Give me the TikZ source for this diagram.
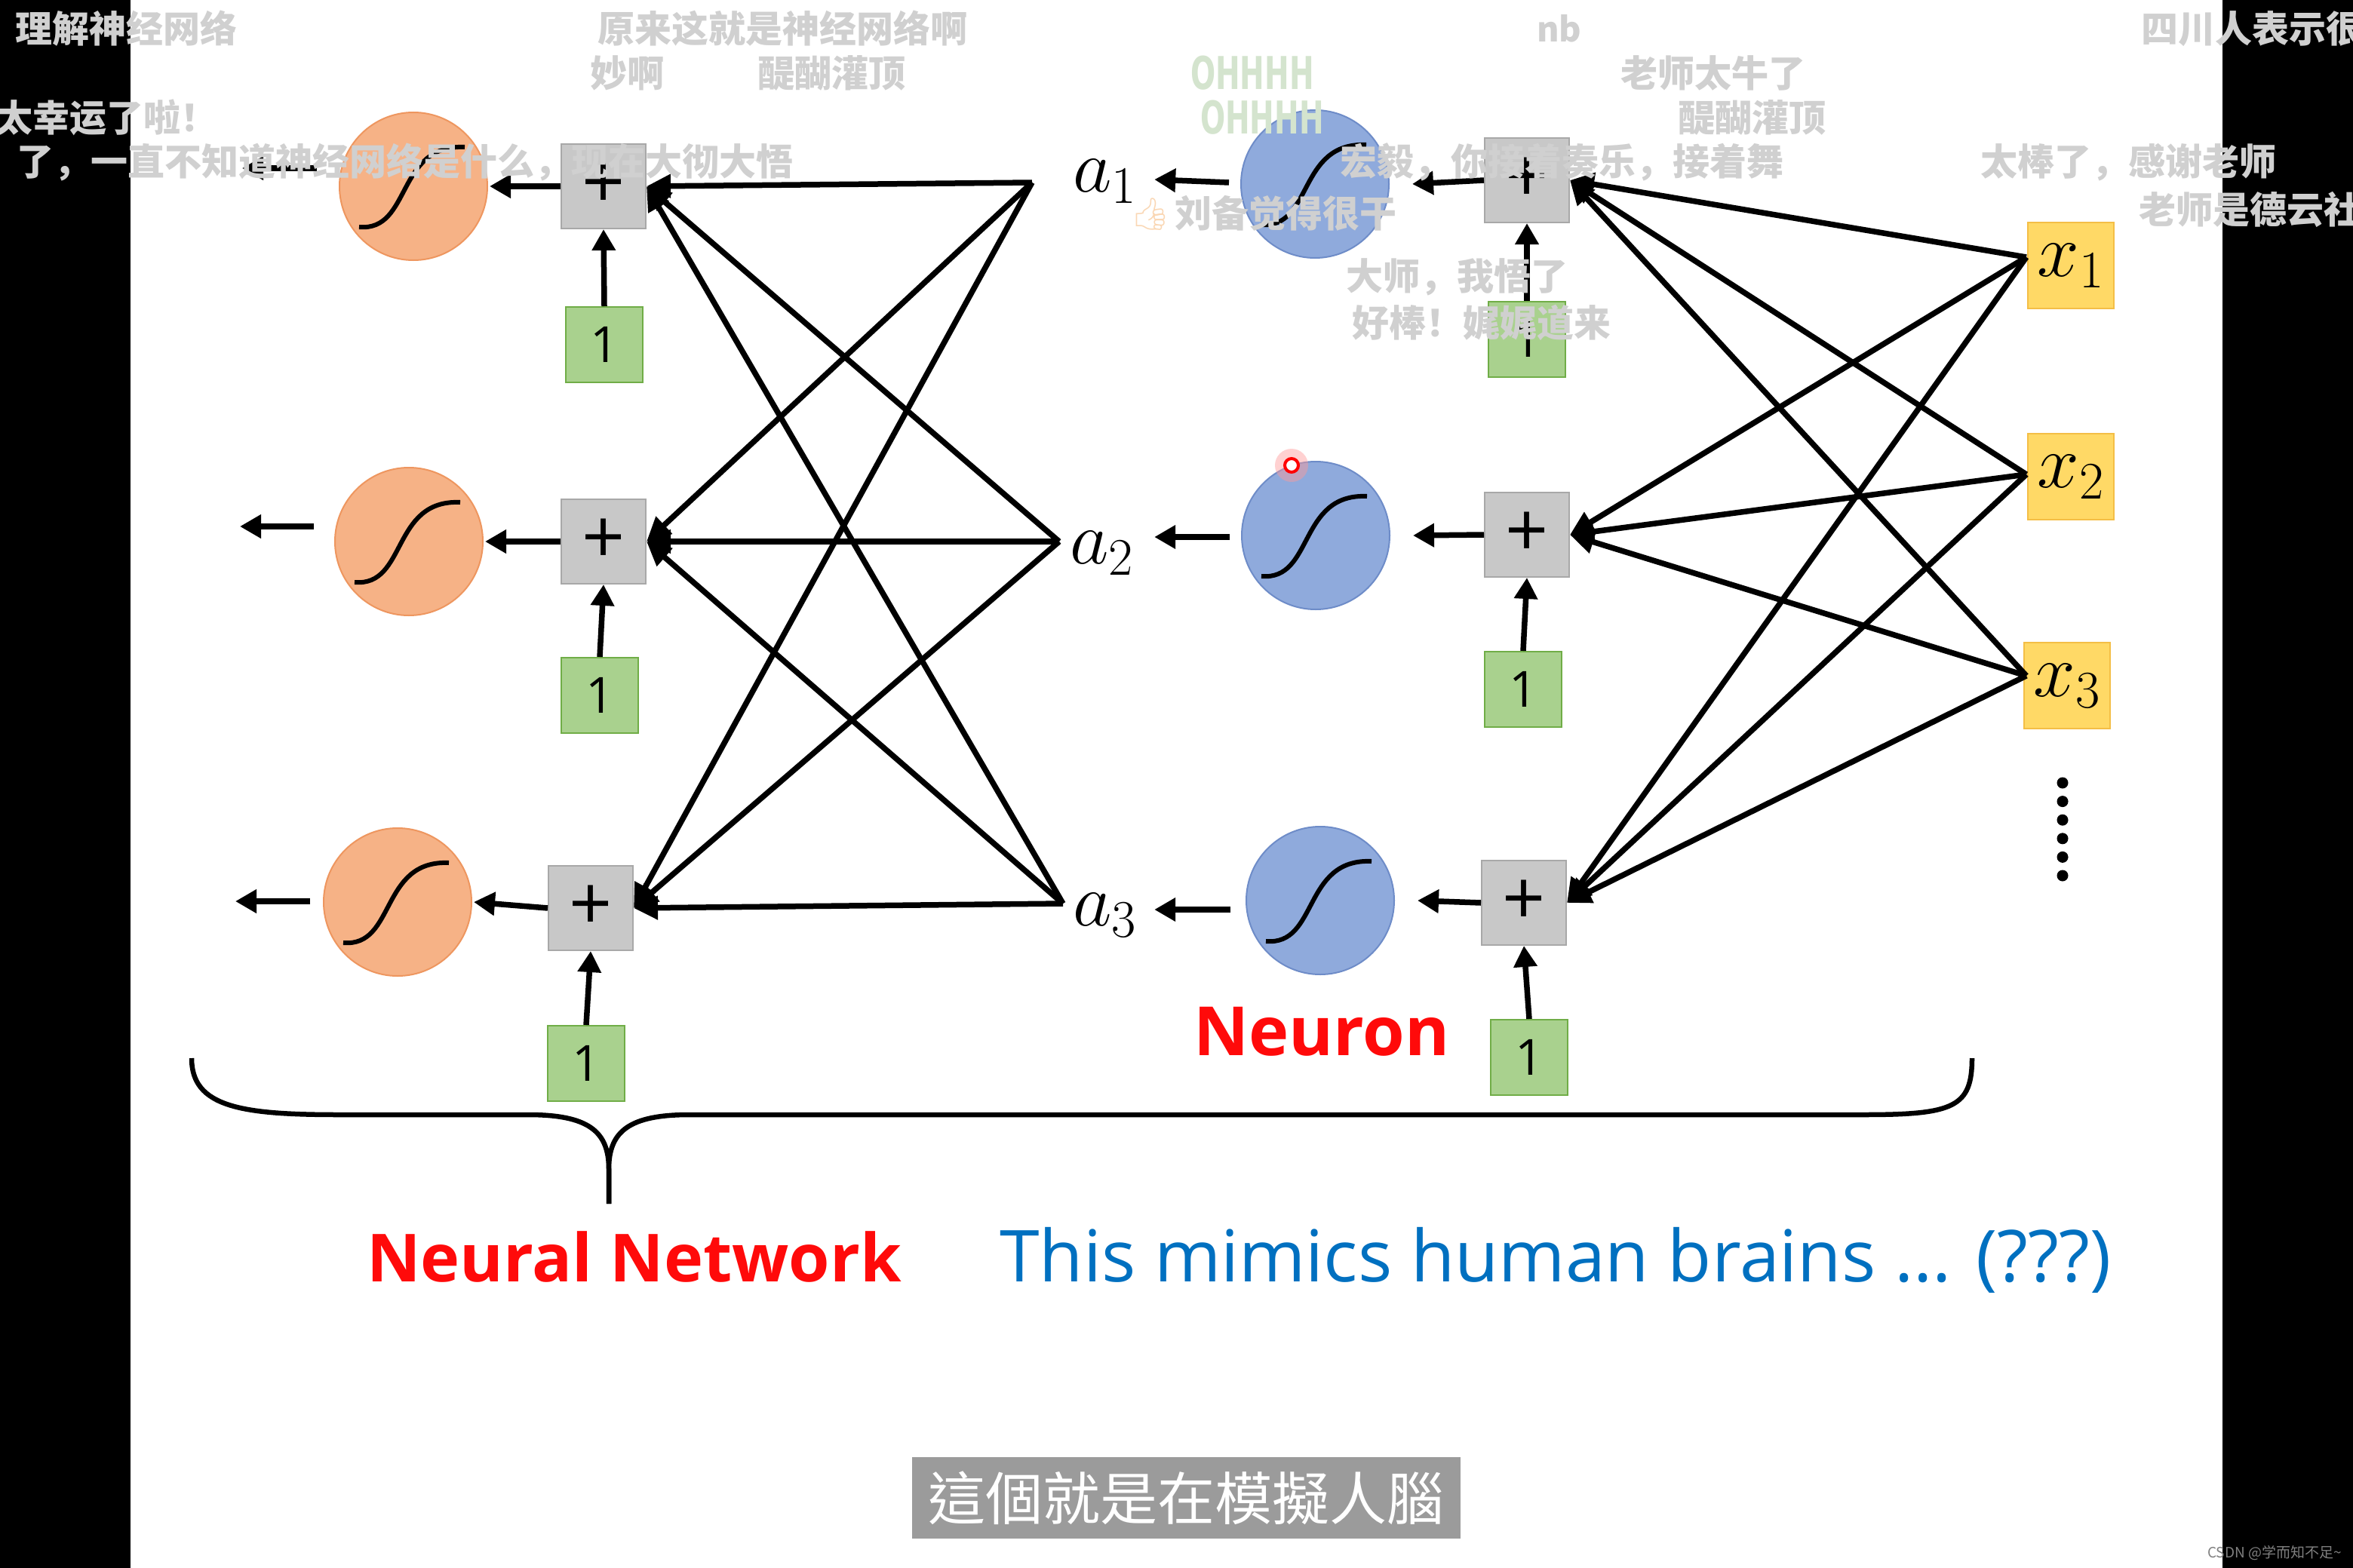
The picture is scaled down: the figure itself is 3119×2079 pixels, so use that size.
\documentclass[tikz,border=0pt]{standalone}
\usepackage{fix-cm}
\usepackage[no-math]{fontspec}
\setmainfont{Open Sans}
\newfontfamily\cjk{Noto Sans CJK SC}
\newfontfamily\cjktc{Noto Sans CJK TC}
\newfontfamily\emo{Noto Emoji}
\newfontfamily\dvs{DejaVu Sans}
\usetikzlibrary{arrows.meta}
\definecolor{orfill}{RGB}{246,178,134}
\definecolor{ordraw}{RGB}{238,150,95}
\definecolor{blfill}{RGB}{143,170,220}
\definecolor{bldraw}{RGB}{110,140,200}
\definecolor{gyfill}{RGB}{200,200,200}
\definecolor{gydraw}{RGB}{168,168,168}
\definecolor{grfill}{RGB}{169,209,142}
\definecolor{grdraw}{RGB}{112,173,71}
\definecolor{yefill}{RGB}{255,217,102}
\definecolor{yedraw}{RGB}{244,190,70}
\definecolor{nnred}{RGB}{255,10,10}
\definecolor{nnblue}{RGB}{0,112,192}
\definecolor{dmgray}{RGB}{208,208,208}
\definecolor{ohcol}{RGB}{212,228,206}
\definecolor{subgray}{RGB}{155,155,155}
\begin{document}
\begin{tikzpicture}[x=1pt,y=-1pt,
  orneuron/.style={circle, minimum size=196pt, inner sep=0pt, fill=orfill, draw=ordraw, line width=2pt},
  blneuron/.style={circle, minimum size=196pt, inner sep=0pt, fill=blfill, draw=bldraw, line width=2pt},
  sumbox/.style={rectangle, fill=gyfill, draw=gydraw, line width=2pt, minimum size=112pt, inner sep=0pt, font=\fontsize{100}{100}\selectfont},
  onebox/.style={rectangle, fill=grfill, draw=grdraw, line width=2pt, minimum width=102pt, minimum height=100pt, inner sep=0pt, font=\fontsize{66}{70}\selectfont},
  inbox/.style={rectangle, fill=yefill, draw=yedraw, line width=2pt, minimum size=114pt, inner sep=0pt, font=\fontsize{100}{100}\selectfont},
  alabel/.style={inner sep=0pt, font=\fontsize{100}{100}\selectfont},
  conn/.style={line width=7.5pt, -{Triangle[length=32pt,width=30pt]}},
  shortarr/.style={line width=7.5pt, -{Triangle[length=28pt,width=30pt]}},
  dmk/.style={anchor=west, inner sep=0pt, text=dmgray, font=\cjk\bfseries\fontsize{49}{55}\selectfont},
  ohtext/.style={inner sep=0pt, text=ohcol, font=\dvs\bfseries\fontsize{60}{60}\selectfont},
  sig/.pic={\draw[line width=6pt] (-72,54) .. controls (-2,60) and (-24,-56) .. (68,-52);}
]
\useasboundingbox (0,0) rectangle (3119,2079);
\clip (0,0) rectangle (3119,2079);
\fill[white] (0,0) rectangle (3119,2079);
\fill[black] (0,0) rectangle (173,2079);
\fill[black] (2946,0) rectangle (3119,2079);

% ---- left layer ----
\node[orneuron] (o1) at (548,247) {};
\node[orneuron] (o2) at (542,718) {};
\node[orneuron] (o3) at (527,1196) {};
\pic at (o1) {sig};
\pic at (o2) {sig};
\pic at (o3) {sig};
\node[sumbox] (p1) at (800,247) {+};
\node[sumbox] (p2) at (800,718) {+};
\node[sumbox] (p3) at (783,1204) {+};
\node[onebox] (g1) at (801,457) {1};
\node[onebox] (g2) at (795,922) {1};
\node[onebox] (g3) at (777,1410) {1};
\coordinate (oe1) at (321,223);
\coordinate (oe2) at (318,698);
\coordinate (oe3) at (312,1195);

% ---- a labels ----
\node[alabel] (a1) at (1464,240) {$a_1$};
\node[alabel] (a2) at (1460,733) {$a_2$};
\node[alabel] (a3) at (1464,1213) {$a_3$};
\coordinate (ca1) at (1368,242);
\coordinate (ca2) at (1404,718);
\coordinate (ca3) at (1409,1198);

% ---- right layer ----
\node[blneuron] (b1) at (1743,244) {};
\node[blneuron] (b2) at (1744,710) {};
\node[blneuron] (b3) at (1750,1194) {};
\pic at (b1) {sig};
\pic at (b2) {sig};
\pic at (b3) {sig};
\node[sumbox] (q1) at (2024,239) {+};
\node[sumbox] (q2) at (2024,709) {+};
\node[sumbox] (q3) at (2020,1197) {+};
\node[onebox] (h1) at (2024,450) {1};
\node[onebox] (h2) at (2019,914) {1};
\node[onebox] (h3) at (2027,1402) {1};

\node[inbox] (x1) at (2745,352) {$x_1$};
\node[inbox] (x2) at (2745,632) {$x_2$};
\node[inbox] (x3) at (2740,909) {$x_3$};
\coordinate (cx1) at (2686,341);
\coordinate (cx2) at (2686,629);
\coordinate (cx3) at (2686,896);

\foreach \k in {0,...,5} \fill (2734,1038+24.6*\k) circle (7.5);

% ---- connectors ----
\foreach \i in {1,2,3} {
  \foreach \j in {1,2,3} {
    \draw[conn] (ca\i) -- (p\j.east);
    \draw[conn] (cx\i) -- (q\j.east);
  }
}
\foreach \j in {1,2,3} {
  \draw[shortarr] (g\j.north) -- (p\j.south);
  \draw[shortarr] (h\j.north) -- (q\j.south);
  \draw[shortarr] (p\j.west) -- ([xshift=2pt]o\j.east);
  \draw[shortarr] (q\j.west) -- ([xshift=30pt]b\j.east);
}
\draw[shortarr] ([xshift=-29pt,yshift=24pt]o1.west) -- (oe1);
\draw[shortarr] ([xshift=-27pt,yshift=20pt]o2.west) -- (oe2);
\draw[shortarr] ([xshift=-17pt,yshift=1pt]o3.west) -- (oe3);
\draw[shortarr] ([xshift=-15pt,yshift=2pt]b1.west) -- ([xshift=24pt,yshift=2pt]a1.east);
\draw[shortarr] ([xshift=-15pt,yshift=-2pt]b2.west) -- ([xshift=28pt,yshift=21pt]a2.east);
\draw[shortarr] ([xshift=-20pt,yshift=-12pt]b3.west) -- ([xshift=24pt,yshift=7pt]a3.east);

% ---- brace ----
\coordinate (brL) at (254,1403);
\coordinate (brR) at (2614,1403);
\coordinate (brT) at (807,1596);
\draw[line width=6.5pt] (brL) .. controls (254,1468) and (320,1478) .. (450,1478)
  -- (700,1478) .. controls (780,1478) and (807,1500) .. (807,1550) -- (brT);
\draw[line width=6.5pt] (brT) -- (807,1550) .. controls (807,1500) and (834,1478) .. (914,1478)
  -- (2470,1478) .. controls (2590,1478) and (2614,1468) .. (brR);

% ---- texts ----
\node[text=nnred, font=\bfseries\fontsize{90}{100}\selectfont, inner sep=0pt] (neuron) at (1752,1368) {Neuron};
\node[text=nnred, font=\bfseries\fontsize{88}{100}\selectfont, inner sep=0pt, anchor=base west] (nn) at (486,1699) {Neural Network};
\node[text=nnblue, font=\fontsize{95}{100}\selectfont, inner sep=0pt, anchor=base west] (mimic) at (1325,1699) {This mimics human brains ... (???)};

% ---- cursor ----
\fill[red!40, opacity=0.45] (1712,617) circle (22);
\draw[red, line width=4pt, fill=white] (1712,617) circle (9);

% ---- subtitle ----
\fill[subgray] (1209,1932) rectangle (1936,2040);
\node[text=white, font=\cjktc\fontsize{76}{80}\selectfont, inner sep=0pt] (subt) at (1572,1986) {這個就是在模擬人腦};
\node[text=gray, font=\cjk\fontsize{19}{20}\selectfont, inner sep=0pt, anchor=west] (csdn) at (2926,2059) {CSDN @学而知不足\textasciitilde};

% ---- danmaku ----
\node[dmk] (d1) at (20,38) {理解神经网络};
\node[dmk] (d2) at (792,38) {原来这就是神经网络啊};
\node[dmk] (d3) at (782,97) {妙啊};
\node[dmk] (d4) at (1004,97) {醍醐灌顶};
\node[dmk] (d5) at (-6,156) {太幸运了啦！};
\node[dmk] (d6) at (22,215) {了，一直不知道神经网络是什么，现在大彻大悟};
\node[dmk, font=\cjk\bfseries\fontsize{45}{50}\selectfont] (d7) at (2037,38) {nb};
\node[dmk] (d8) at (2838,38) {四川人表示很};
\node[dmk] (d9) at (2148,97) {老师太牛了};
\node[dmk] (d10) at (2224,156) {醍醐灌顶};
\node[ohtext] (d11) at (1660,97) {\scalebox{0.65}[1]{OHHHH}};
\node[ohtext] (d12) at (1673,156) {\scalebox{0.65}[1]{OHHHH}};
\node[dmk] (d13) at (1776,215) {宏毅，你接着奏乐，接着舞};
\node[inner sep=0pt, text={rgb,255:red,250;green,215;blue,180}, font=\emo\fontsize{42}{45}\selectfont] (d14) at (1525,284) {👍};
\node[dmk] (d15) at (1557,283) {刘备觉得很干};
\node[dmk] (d16) at (2625,215) {太棒了，感谢老师};
\node[dmk] (d17) at (2835,278) {老师是德云社};
\node[dmk] (d18) at (1784,367) {大师，我悟了};
\node[dmk] (d19) at (1792,428) {好棒！娓娓道来};
\end{tikzpicture}
\end{document}
